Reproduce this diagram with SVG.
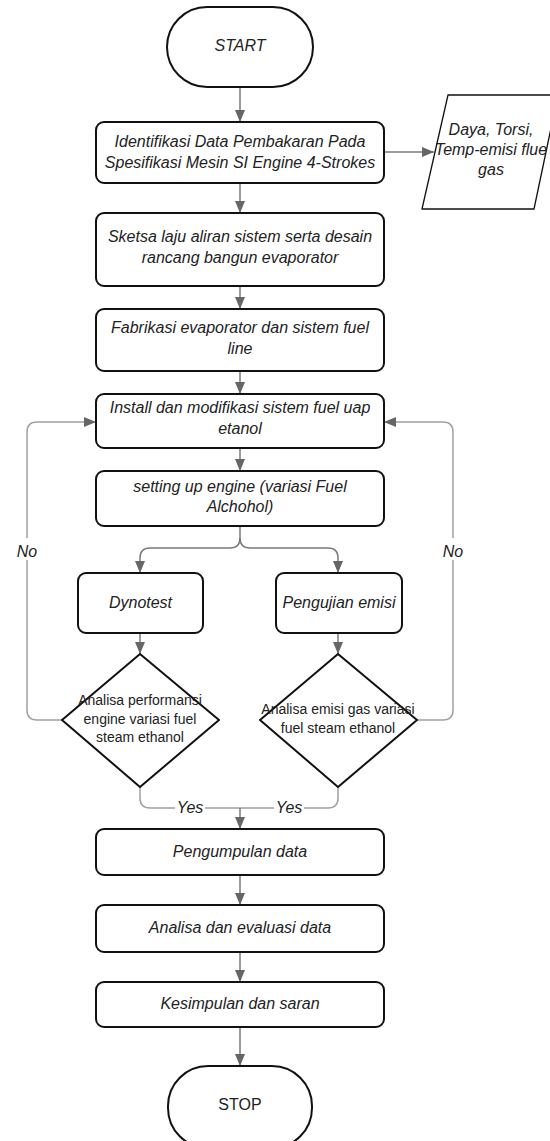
<svg xmlns="http://www.w3.org/2000/svg" width="550" height="1141" viewBox="0 0 550 1141">
<style>
.box{fill:#fff;stroke:#111;stroke-width:2}
.t{font-family:"Liberation Sans",Arial,sans-serif;font-size:16px;font-style:italic;fill:#222;text-anchor:middle}
.d{font-family:"Liberation Sans",Arial,sans-serif;font-size:14px;fill:#222;text-anchor:middle}
.r{font-family:"Liberation Sans",Arial,sans-serif;font-size:16px;fill:#222;text-anchor:middle}
.lb{font-family:"Liberation Sans",Arial,sans-serif;font-size:16px;font-style:italic;fill:#222;text-anchor:middle}
.c{fill:none;stroke:#7a7a7a;stroke-width:1.5}
.cl{fill:none;stroke:#a0a0a0;stroke-width:1.5}
</style>
<defs>
<marker id="ah" viewBox="0 0 12 10" refX="12" refY="5" markerWidth="12" markerHeight="10" orient="auto" markerUnits="userSpaceOnUse">
<path d="M0,0 L12,5 L0,10 z" fill="#666"/>
</marker>
</defs>
<rect width="550" height="1141" fill="#fff"/>
<g id="connectors">
<path class="c" d="M240,87 V122" marker-end="url(#ah)"/>
<path class="c" d="M384,152 H434" marker-end="url(#ah)"/>
<path class="c" d="M240,183 V213" marker-end="url(#ah)"/>
<path class="c" d="M240,286 V309" marker-end="url(#ah)"/>
<path class="c" d="M240,371 V394" marker-end="url(#ah)"/>
<path class="c" d="M240,448 V471" marker-end="url(#ah)"/>
<path class="c" d="M240,526 V538 Q240,548 230,548 H150 Q140,548 140,558 V573" marker-end="url(#ah)"/>
<path class="c" d="M240,538 Q240,548 250,548 H328 Q338,548 338,558 V573" marker-end="url(#ah)"/>
<path class="c" d="M140,633 V654" marker-end="url(#ah)"/>
<path class="c" d="M338,633 V654" marker-end="url(#ah)"/>
<path class="cl" d="M62,720 H37 Q27,720 27,710 V432 Q27,422 37,422 H96" marker-end="url(#ah)"/>
<path class="cl" d="M417,720 H443 Q453,720 453,710 V432 Q453,422 443,422 H384" marker-end="url(#ah)"/>
<path class="cl" d="M140,787 V798 Q140,808 150,808 H240"/>
<path class="cl" d="M338,787 V798 Q338,808 328,808 H240"/>
<path class="c" d="M240,808 V829" marker-end="url(#ah)"/>
<path class="c" d="M240,875 V905" marker-end="url(#ah)"/>
<path class="c" d="M240,952 V982" marker-end="url(#ah)"/>
<path class="c" d="M240,1027 V1066" marker-end="url(#ah)"/>
<rect x="13" y="538" width="28" height="22" fill="#fff"/>
<text class="lb" x="27" y="557">No</text>
<rect x="439" y="538" width="28" height="22" fill="#fff"/>
<text class="lb" x="453" y="557">No</text>
<rect x="175" y="797" width="30" height="21" fill="#fff"/>
<text class="lb" x="190" y="813">Yes</text>
<rect x="274" y="797" width="30" height="21" fill="#fff"/>
<text class="lb" x="289" y="813">Yes</text>
</g>
<g id="start">
<rect class="box" x="167" y="7" width="146" height="80" rx="40"/>
<text class="t" x="240" y="51">START</text>
</g>
<g id="identifikasi">
<rect class="box" x="96" y="122" width="288" height="61" rx="8"/>
<text class="t" x="240" y="147">Identifikasi Data Pembakaran Pada</text>
<text class="t" x="240" y="167.5">Spesifikasi Mesin SI Engine 4-Strokes</text>
</g>
<g id="data-output">
<path d="M448,95 H558 L534,209 H422 Z" fill="#fff" stroke="#111" stroke-width="1.3" stroke-linejoin="round"/>
<text class="t" x="491" y="135">Daya, Torsi,</text>
<text class="t" x="491" y="155">Temp-emisi flue</text>
<text class="t" x="491" y="175">gas</text>
</g>
<g id="sketsa">
<rect class="box" x="96" y="213" width="288" height="73" rx="8"/>
<text class="t" x="240" y="242">Sketsa laju aliran sistem serta desain</text>
<text class="t" x="240" y="263">rancang bangun evaporator</text>
</g>
<g id="fabrikasi">
<rect class="box" x="96" y="309" width="288" height="62" rx="8"/>
<text class="t" x="240" y="333">Fabrikasi evaporator dan sistem fuel</text>
<text class="t" x="240" y="354">line</text>
</g>
<g id="install">
<rect class="box" x="96" y="394" width="288" height="54" rx="8"/>
<text class="t" x="240" y="413">Install dan modifikasi sistem fuel uap</text>
<text class="t" x="240" y="434">etanol</text>
</g>
<g id="setting">
<rect class="box" x="96" y="471" width="288" height="55" rx="8"/>
<text class="t" x="240" y="492">setting up engine (variasi Fuel</text>
<text class="t" x="240" y="512">Alchohol)</text>
</g>
<g id="dynotest">
<rect class="box" x="78" y="573" width="125" height="60" rx="8"/>
<text class="t" x="140.5" y="608">Dynotest</text>
</g>
<g id="pengujian">
<rect class="box" x="276" y="573" width="126" height="60" rx="8"/>
<text class="t" x="339" y="608">Pengujian emisi</text>
</g>
<g id="analisa-performansi">
<path class="box" d="M140,654 L219,720 L140,787 L62,720 Z" stroke-linejoin="round"/>
<text class="d" x="140" y="705">Analisa performansi</text>
<text class="d" x="140" y="723.5">engine variasi fuel</text>
<text class="d" x="140" y="742">steam ethanol</text>
</g>
<g id="analisa-emisi">
<path class="box" d="M338,654 L417,720 L338,787 L260,720 Z" stroke-linejoin="round"/>
<text class="d" x="338" y="714">Analisa emisi gas variasi</text>
<text class="d" x="338" y="732.5">fuel steam ethanol</text>
</g>
<g id="pengumpulan">
<rect class="box" x="96" y="829" width="288" height="46" rx="8"/>
<text class="t" x="240" y="857">Pengumpulan data</text>
</g>
<g id="analisa-evaluasi">
<rect class="box" x="96" y="905" width="288" height="47" rx="8"/>
<text class="t" x="240" y="933">Analisa dan evaluasi data</text>
</g>
<g id="kesimpulan">
<rect class="box" x="96" y="982" width="288" height="45" rx="8"/>
<text class="t" x="240" y="1009">Kesimpulan dan saran</text>
</g>
<g id="stop">
<rect class="box" x="168" y="1066" width="144" height="82" rx="40"/>
<text class="r" x="240" y="1110">STOP</text>
</g>
</svg>
